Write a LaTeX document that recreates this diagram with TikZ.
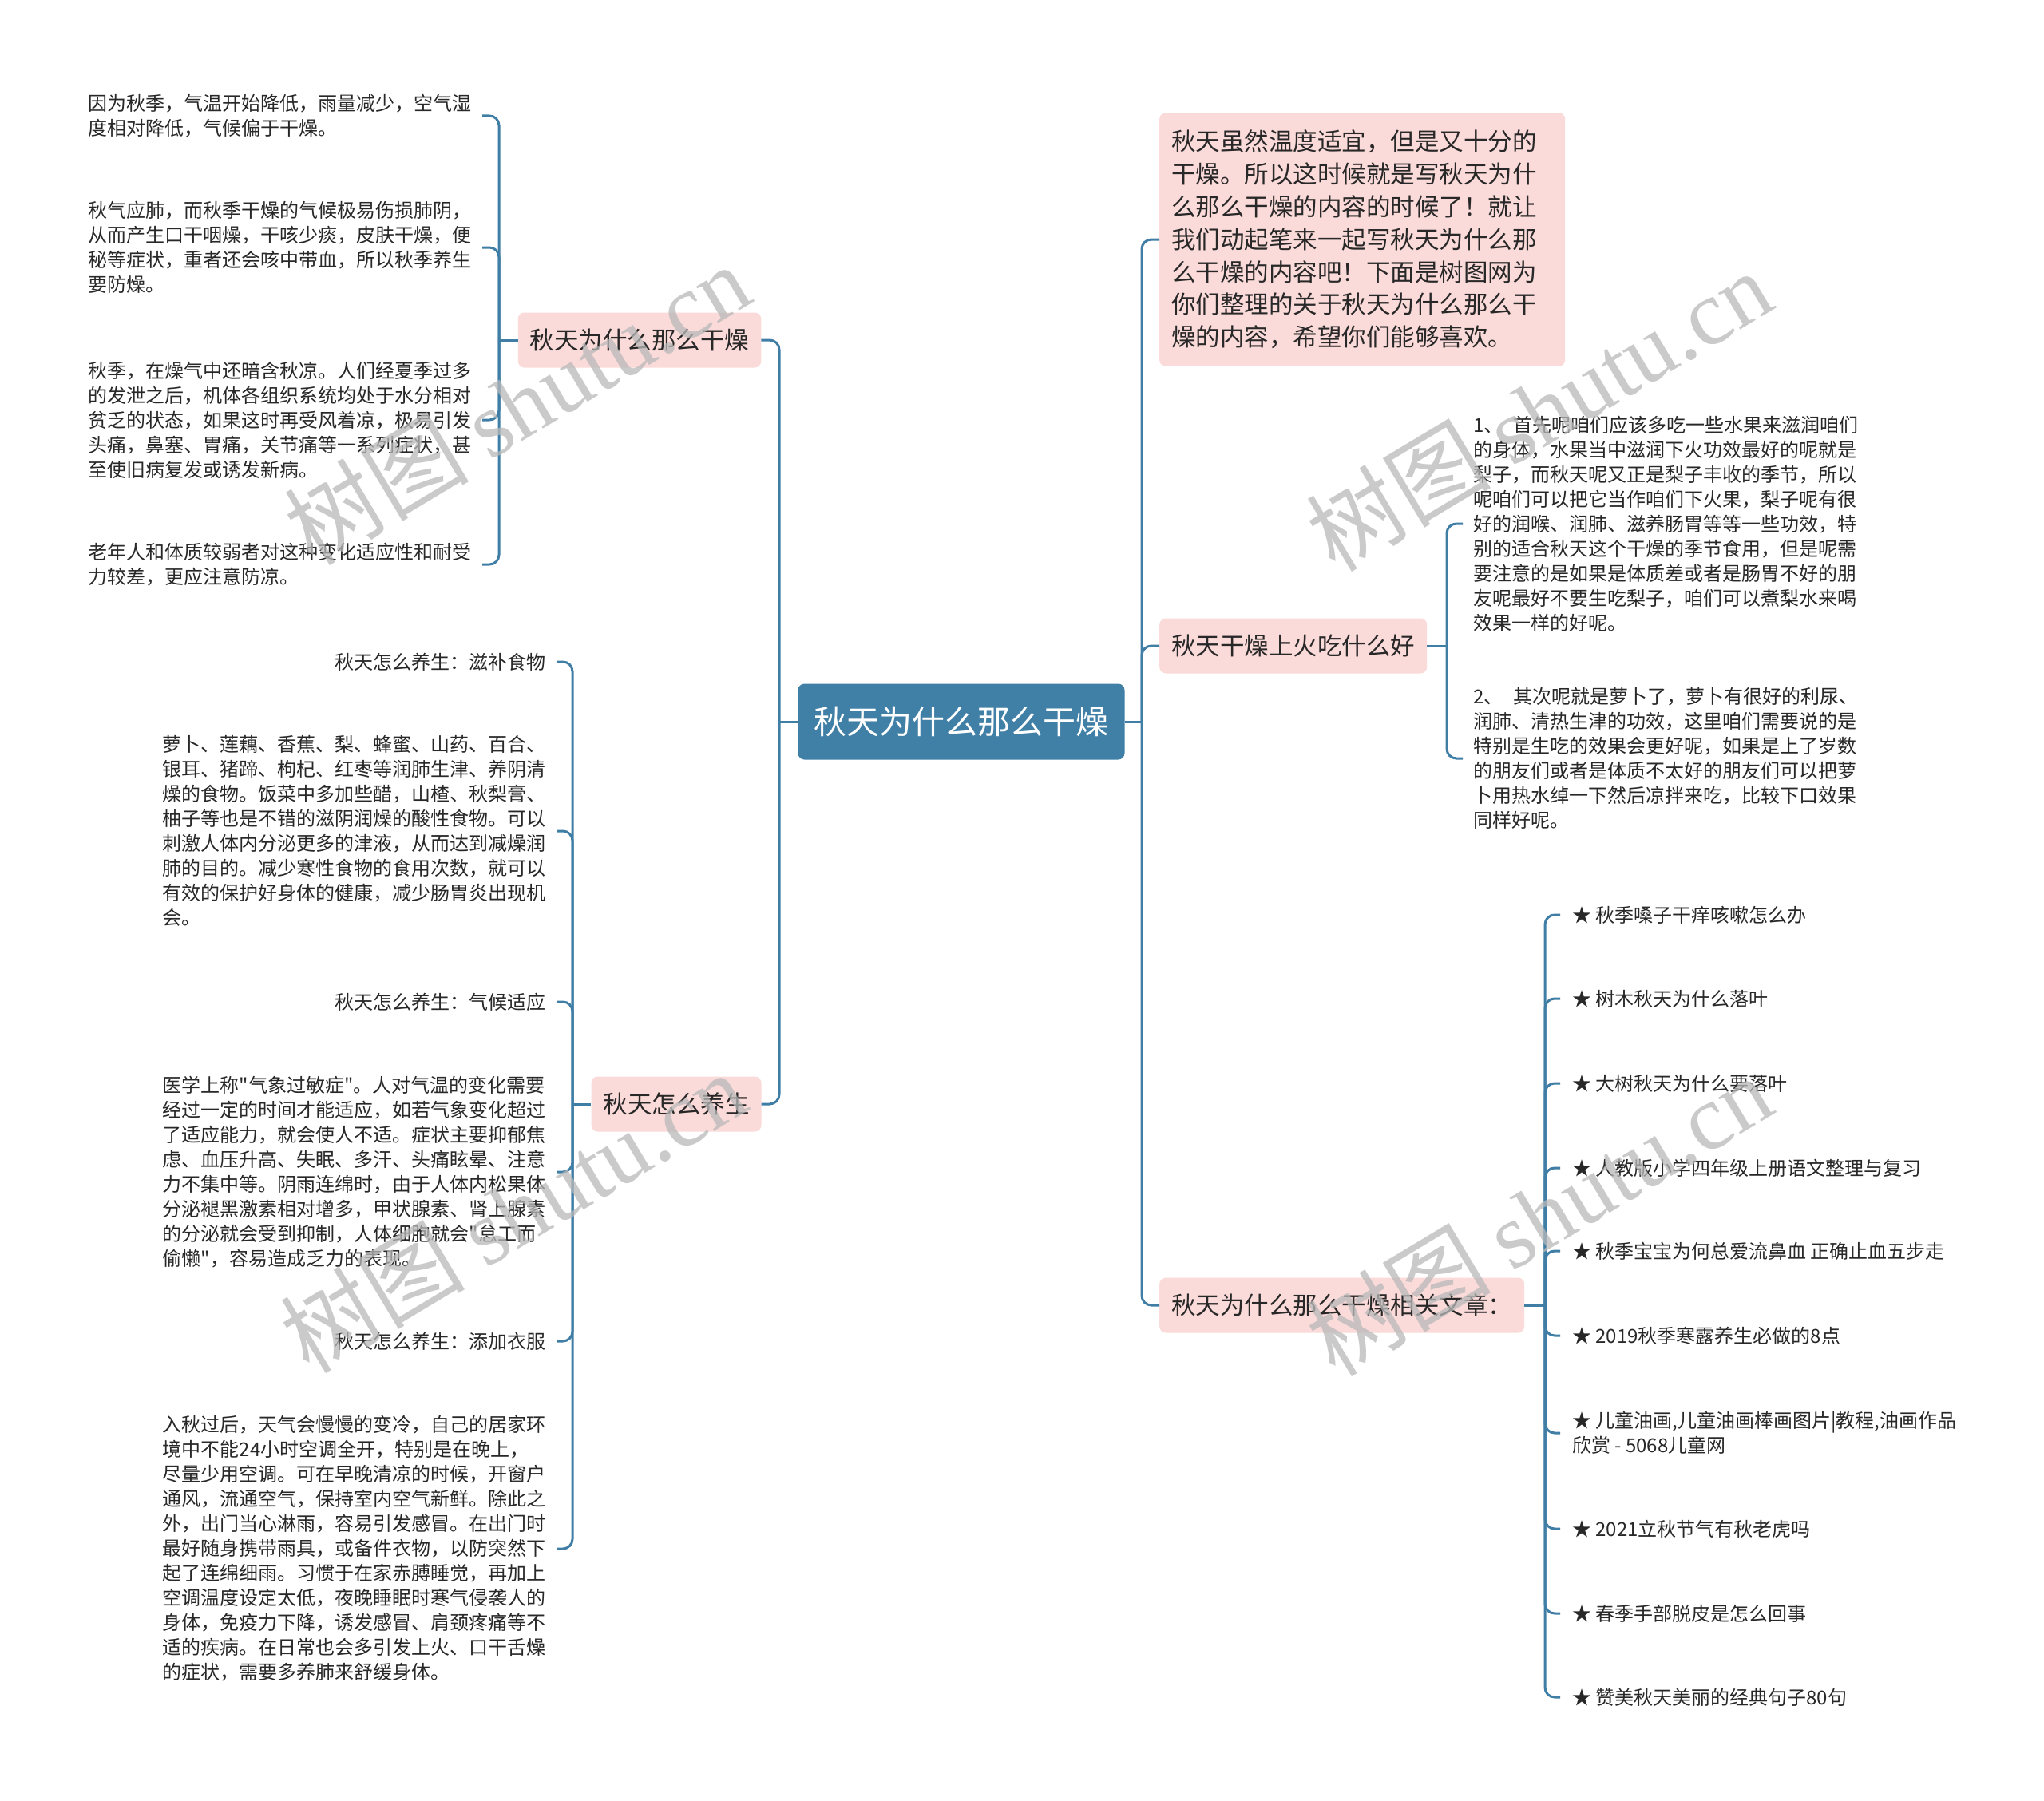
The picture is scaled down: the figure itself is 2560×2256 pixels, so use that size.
\documentclass[tikz,border=0pt]{standalone}
\usepackage{fontspec}
\setmainfont{Noto Sans CJK SC}[Ligatures=TeXOff]
\newfontfamily\wmserif{Liberation Serif}
\definecolor{lineblue}{RGB}{64,126,166}
\definecolor{mainblue}{RGB}{64,127,166}
\definecolor{pinkbg}{RGB}{250,219,217}
\definecolor{txt}{RGB}{40,40,40}
\definecolor{wmgray}{RGB}{185,185,185}
\begin{document}
\begin{tikzpicture}[x=1pt,y=-1pt,
  conn/.style={draw=lineblue, line width=3pt, rounded corners=12pt},
  root/.style={fill=mainblue, rounded corners=8pt, text=white, font=\fontsize{41}{48}\selectfont, inner xsep=20pt, inner ysep=0pt, minimum height=95pt},
  topic/.style={fill=pinkbg, rounded corners=8pt, text=txt, font=\fontsize{30.5}{40.8}\selectfont, inner xsep=15pt, inner ysep=0pt, minimum height=69pt},
  leafL/.style={anchor=east, align=left, text=txt, font=\fontsize{24}{31}\selectfont, inner xsep=13pt, inner ysep=0pt},
  leafR/.style={anchor=west, align=left, text=txt, font=\fontsize{24}{31}\selectfont, inner xsep=13pt, inner ysep=0pt},
  wmark/.style={rotate=31, text=wmgray, opacity=0.75, font=\fontsize{116}{120}\selectfont, inner sep=0pt}]
\useasboundingbox (0,0) rectangle (2560,2256);
\fill[white] (0,0) rectangle (2560,2256);

% root
\node[root] (C) at (1204,904) {秋天为什么那么干燥};

% left topics
\node[topic] (L1) at (801,426) {秋天为什么那么干燥};
\node[topic] (L2) at (847,1383) {秋天怎么养生};

% right topics
\node[topic, anchor=west, align=left, text width=478pt, inner xsep=15pt, inner ysep=22pt] (R1) at (1452,300) {秋天虽然温度适宜，但是又十分的\\干燥。所以这时候就是写秋天为什\\么那么干燥的内容的时候了！就让\\我们动起笔来一起写秋天为什么那\\么干燥的内容吧！下面是树图网为\\你们整理的关于秋天为什么那么干\\燥的内容，希望你们能够喜欢。};
\node[topic, anchor=west] (R2) at (1452,809) {秋天干燥上火吃什么好};
\node[topic, anchor=west] (R3) at (1452,1635) {秋天为什么那么干燥相关文章：};

% junctions
\coordinate (jL) at (976,904);
\coordinate (jR) at (1430,904);
\coordinate (jL1) at (625,426);
\coordinate (jL2) at (717,1383);
\coordinate (jR2) at (1812,809);
\coordinate (jR3) at (1935,1635);

% L1 children
\node[leafL] (c1) at (604,145) {因为秋季，气温开始降低，雨量减少，空气湿\\度相对降低，气候偏于干燥。};
\node[leafL] (c2) at (604,310) {秋气应肺，而秋季干燥的气候极易伤损肺阴，\\从而产生口干咽燥，干咳少痰，皮肤干燥，便\\秘等症状，重者还会咳中带血，所以秋季养生\\要防燥。};
\node[leafL] (c3) at (604,526) {秋季，在燥气中还暗含秋凉。人们经夏季过多\\的发泄之后，机体各组织系统均处于水分相对\\贫乏的状态，如果这时再受风着凉，极易引发\\头痛，鼻塞、胃痛，关节痛等一系列症状，甚\\至使旧病复发或诱发新病。};
\node[leafL] (c4) at (604,707) {老年人和体质较弱者对这种变化适应性和耐受\\力较差，更应注意防凉。};

% L2 children
\node[leafL] (d1) at (697,829) {秋天怎么养生：滋补食物};
\node[leafL] (d2) at (697,1041) {萝卜、莲藕、香蕉、梨、蜂蜜、山药、百合、\\银耳、猪蹄、枸杞、红枣等润肺生津、养阴清\\燥的食物。饭菜中多加些醋，山楂、秋梨膏、\\柚子等也是不错的滋阴润燥的酸性食物。可以\\刺激人体内分泌更多的津液，从而达到减燥润\\肺的目的。减少寒性食物的食用次数，就可以\\有效的保护好身体的健康，减少肠胃炎出现机\\会。};
\node[leafL] (d3) at (697,1255) {秋天怎么养生：气候适应};
\node[leafL] (d4) at (697,1468) {医学上称"气象过敏症"。人对气温的变化需要\\经过一定的时间才能适应，如若气象变化超过\\了适应能力，就会使人不适。症状主要抑郁焦\\虑、血压升高、失眠、多汗、头痛眩晕、注意\\力不集中等。阴雨连绵时，由于人体内松果体\\分泌褪黑激素相对增多，甲状腺素、肾上腺素\\的分泌就会受到抑制，人体细胞就会"怠工而\\偷懒"，容易造成乏力的表现。};
\node[leafL] (d5) at (697,1680) {秋天怎么养生：添加衣服};
\node[leafL] (d6) at (697,1940) {入秋过后，天气会慢慢的变冷，自己的居家环\\境中不能24小时空调全开，特别是在晚上，\\尽量少用空调。可在早晚清凉的时候，开窗户\\通风，流通空气，保持室内空气新鲜。除此之\\外，出门当心淋雨，容易引发感冒。在出门时\\最好随身携带雨具，或备件衣物，以防突然下\\起了连绵细雨。习惯于在家赤膊睡觉，再加上\\空调温度设定太低，夜晚睡眠时寒气侵袭人的\\身体，免疫力下降，诱发感冒、肩颈疼痛等不\\适的疾病。在日常也会多引发上火、口干舌燥\\的症状，需要多养肺来舒缓身体。};

% R2 children
\node[leafR] (e1) at (1832,656) {1、\hspace{0.55em}首先呢咱们应该多吃一些水果来滋润咱们\\的身体，水果当中滋润下火功效最好的呢就是\\梨子，而秋天呢又正是梨子丰收的季节，所以\\呢咱们可以把它当作咱们下火果，梨子呢有很\\好的润喉、润肺、滋养肠胃等等一些功效，特\\别的适合秋天这个干燥的季节食用，但是呢需\\要注意的是如果是体质差或者是肠胃不好的朋\\友呢最好不要生吃梨子，咱们可以煮梨水来喝\\效果一样的好呢。};
\node[leafR] (e2) at (1832,950) {2、\hspace{0.55em}其次呢就是萝卜了，萝卜有很好的利尿、\\润肺、清热生津的功效，这里咱们需要说的是\\特别是生吃的效果会更好呢，如果是上了岁数\\的朋友们或者是体质不太好的朋友们可以把萝\\卜用热水绰一下然后凉拌来吃，比较下口效果\\同样好呢。};

% R3 children
\node[leafR, inner xsep=15pt] (f1) at (1954,1146) {★ 秋季嗓子干痒咳嗽怎么办};
\node[leafR, inner xsep=15pt] (f2) at (1954,1251) {★ 树木秋天为什么落叶};
\node[leafR, inner xsep=15pt] (f3) at (1954,1357) {★ 大树秋天为什么要落叶};
\node[leafR, inner xsep=15pt] (f4) at (1954,1463) {★ 人教版小学四年级上册语文整理与复习};
\node[leafR, inner xsep=15pt] (f5) at (1954,1567) {★ 秋季宝宝为何总爱流鼻血 正确止血五步走};
\node[leafR, inner xsep=15pt] (f6) at (1954,1673) {★ 2019秋季寒露养生必做的8点};
\node[leafR, inner xsep=15pt] (f7) at (1954,1795) {★ 儿童油画,儿童油画棒画图片|教程,油画作品\\欣赏 - 5068儿童网};
\node[leafR, inner xsep=15pt] (f8) at (1954,1915) {★ 2021立秋节气有秋老虎吗};
\node[leafR, inner xsep=15pt] (f9) at (1954,2021) {★ 春季手部脱皮是怎么回事};
\node[leafR, inner xsep=15pt] (f10) at (1954,2126) {★ 赞美秋天美丽的经典句子80句};

% connectors: root
\draw[conn] (C.west) -- (jL);
\draw[conn] (jL) |- (L1.east);
\draw[conn] (jL) |- (L2.east);
\draw[conn] (C.east) -- (jR);
\draw[conn] (jR) |- (R1.west);
\draw[conn] (jR) |- (R2.west);
\draw[conn] (jR) |- (R3.west);

% L1 bracket
\draw[conn] (L1.west) -- (jL1);
\foreach \n in {c1,c2,c3,c4} \draw[conn] (jL1) |- (\n.east);
% L2 bracket
\draw[conn] (L2.west) -- (jL2);
\foreach \n in {d1,d2,d3,d4,d5,d6} \draw[conn] (jL2) |- (\n.east);
% R2 bracket
\draw[conn] (R2.east) -- (jR2);
\foreach \n in {e1,e2} \draw[conn] (jR2) |- (\n.west);
% R3 bracket
\draw[conn] (R3.east) -- (jR3);
\foreach \n in {f1,f2,f3,f4,f5,f6,f7,f8,f9,f10} \draw[conn] (jR3) |- (\n.west);

% watermarks
\node[wmark] (w1) at (647,506) {树图 {\wmserif shutu.cn}};
\node[wmark] (w2) at (1927,514) {树图 {\wmserif shutu.cn}};
\node[wmark] (w3) at (642,1518) {树图 {\wmserif shutu.cn}};
\node[wmark] (w4) at (1927,1522) {树图 {\wmserif shutu.cn}};
\end{tikzpicture}
\end{document}
